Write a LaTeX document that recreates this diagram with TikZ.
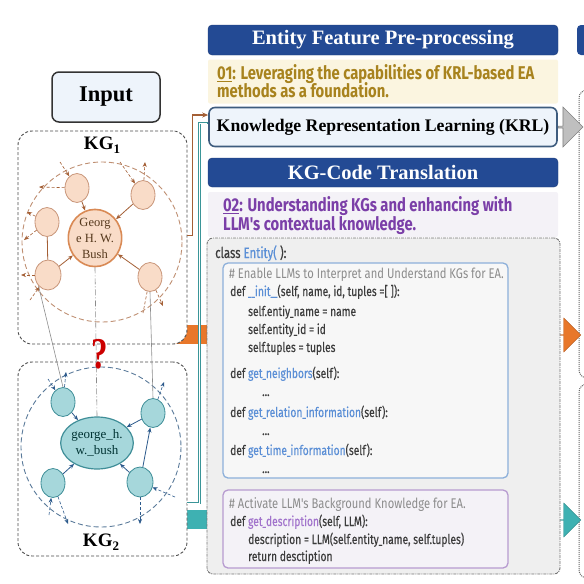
\documentclass[tikz,border=0pt]{standalone}
\usepackage{fontspec}
\usepackage{graphicx}
\setmainfont{Liberation Serif}
\newfontfamily\cond{Fira Sans}[FakeStretch=0.8]
\newfontfamily\condcode{Fira Sans}[FakeStretch=0.76,FakeBold=0.4]
\newcommand\us{\scalebox{0.65}[1]{\_}}
\usetikzlibrary{shapes.geometric,shapes.arrows,arrows.meta}
\definecolor{hdrblue}{HTML}{234A94}
\definecolor{gold}{HTML}{A8831E}
\definecolor{creamfill}{HTML}{FBF5E0}
\definecolor{purpletxt}{HTML}{7B3FA8}
\definecolor{lavfill}{HTML}{F4F2F7}
\definecolor{krlfill}{HTML}{EEF4FB}
\definecolor{krlline}{HTML}{3E5C7E}
\definecolor{codefill}{HTML}{EFEFEF}
\definecolor{codetxt}{HTML}{3C3C3C}
\definecolor{cmttxt}{HTML}{8C8C8C}
\definecolor{kwblue}{HTML}{5B8FD6}
\definecolor{kwpurple}{HTML}{A274CC}
\definecolor{blueframe}{HTML}{8DB0DA}
\definecolor{purpleframe}{HTML}{B79BD0}
\definecolor{orangeC}{HTML}{E8772A}
\definecolor{tealC}{HTML}{3EB1B2}
\definecolor{tealline}{HTML}{3A9598}
\definecolor{brownline}{HTML}{A45F35}
\definecolor{peach}{HTML}{F9DCC8}
\definecolor{peachline}{HTML}{C9967A}
\definecolor{kgonefr}{HTML}{D98A55}
\definecolor{aqua}{HTML}{A6D7DB}
\definecolor{aqualine}{HTML}{3F8E98}
\definecolor{kgtwoedge}{HTML}{2C5A8C}
\definecolor{kgtwodash}{HTML}{5A7A9A}
\begin{document}
\begin{tikzpicture}[x=1pt,y=-1pt,
  hdr/.style={draw=hdrblue!80!black,fill=hdrblue,rounded corners=4pt,text=white,font=\bfseries\fontsize{20.5}{22}\selectfont,minimum width=350pt,inner sep=0pt},
  notebox/.style={rounded corners=2pt,minimum width=350pt,inner sep=0pt},
  notetxt/.style={anchor=base west,inner sep=0pt,font=\cond\bfseries\fontsize{18.5}{20}\selectfont},
  codeln/.style={anchor=base west,inner sep=0pt,text=codetxt,font=\condcode\fontsize{13.5}{15}\selectfont},
  cmtln/.style={anchor=base west,inner sep=0pt,text=cmttxt,font=\cond\fontsize{14}{15}\selectfont},
  kgframe/.style={draw=black!70,densely dashed,rounded corners=14pt,fill=white,line width=0.9pt,minimum width=169pt,inner sep=0pt},
  kgone/.style={ellipse,fill=peach,draw=peachline,line width=0.8pt,inner sep=0pt,minimum width=24pt,minimum height=29pt},
  kgtwo/.style={ellipse,fill=aqua,draw=aqualine,line width=0.8pt,inner sep=0pt,minimum width=24pt,minimum height=29pt},
  eone/.style={draw=brownline,line width=0.8pt,-{Stealth[length=5pt,width=4pt]}},
  eonedash/.style={eone,densely dashed,line width=0.6pt},
  etwo/.style={draw=kgtwoedge,line width=0.8pt,-{Stealth[length=5pt,width=4pt]}},
  etwodash/.style={etwo,densely dashed,line width=0.6pt},
  alignln/.style={draw=black!45,line width=0.6pt}
]
\useasboundingbox (0,0) rectangle (584,584);
\begin{scope}
\clip (0,0) rectangle (584,584);
% right partial panel
\fill[hdrblue,rounded corners=4pt] (577,25) rectangle (610,55);
\draw[black!60,densely dotted,line width=1pt,rounded corners=8pt] (579,90) rectangle (620,378);
\draw[black!60,densely dotted,line width=1pt,rounded corners=8pt] (579,384) rectangle (620,578);
% bands behind
\fill[orangeC] (160,325) rectangle (210,344);
\fill[tealC] (160,510) rectangle (210,529);
\end{scope}

% right block arrows
\node[single arrow,fill=orangeC,draw=orangeC!80!black,line width=0.4pt,minimum width=34pt,single arrow head extend=7pt,minimum height=27pt,inner sep=0pt] (oarr) at (567,335) {};
\node[single arrow,fill=tealC,draw=tealC!80!black,line width=0.4pt,minimum width=34pt,single arrow head extend=7pt,minimum height=27pt,inner sep=0pt] (tarr) at (567,520) {};
\node[single arrow,fill=black!25,draw=black!50,line width=0.6pt,minimum width=40pt,single arrow head extend=6pt,minimum height=25pt,inner sep=0pt] (garr) at (570,127) {};

% headers and boxes
\node[hdr,minimum height=30pt] (h1) at (383,40) {Entity Feature Pre-processing};
\node[notebox,fill=creamfill,minimum height=44pt] (n1) at (383,81.5) {};
\node[notetxt,text=gold] (n1a) at (217,79) {\underline{01}: Leveraging the capabilities of KRL-based EA};
\node[notetxt,text=gold] (n1b) at (217,97) {methods as a foundation.};
\node[draw=krlline,fill=krlfill,line width=1.6pt,rounded corners=6pt,minimum width=348pt,minimum height=39pt,inner sep=0pt,font=\bfseries\fontsize{17.7}{19}\selectfont] (krl) at (383,127) {Knowledge Representation Learning (KRL)};
\node[hdr,minimum height=29pt] (h2) at (383,172.5) {KG-Code Translation};
\node[notebox,fill=lavfill,minimum height=45pt] (n2) at (383,214.5) {};
\node[notetxt,text=purpletxt] (n2a) at (223,211) {\underline{02}: Understanding KGs and enhancing with};
\node[notetxt,text=purpletxt] (n2b) at (223,230) {LLM's contextual knowledge.};

% code box
\node[draw=black!55,fill=codefill,dash pattern=on 3pt off 1pt on 1pt off 1pt,line width=0.9pt,rounded corners=6pt,minimum width=353pt,minimum height=336pt,inner sep=0pt] (codebox) at (383.5,406) {};
\node[draw=blueframe,fill=black!3,line width=1.3pt,rounded corners=5pt,minimum width=285pt,minimum height=215pt,inner sep=0pt] (bluebox) at (365.5,370.5) {};
\node[draw=purpleframe,fill=lavfill,line width=1.3pt,rounded corners=5pt,minimum width=285pt,minimum height=78pt,inner sep=0pt] (purplebox) at (365.5,529) {};

\node[codeln,font=\condcode\fontsize{15}{17}\selectfont] (c0) at (215,258) {class \textcolor{kwblue}{Entity(} ):};
\node[cmtln] (c1) at (229,278) {\# Enable LLMs to Interpret and Understand KGs for EA.};
\node[codeln] (c2) at (230,296) {def \textcolor{kwblue}{\us\us init\us\us}(self, name, id, tuples =[ ]):};
\node[codeln] (c3) at (248,316) {self.entiy\us name = name};
\node[codeln] (c4) at (248,334) {self.entity\us id = id};
\node[codeln] (c5) at (248,352) {self.tuples = tuples};
\node[codeln] (c6) at (230,378) {def \textcolor{kwblue}{get\us neighbors}(self):};
\node[codeln] (c7) at (262,396) {...};
\node[codeln] (c8) at (230,417) {def \textcolor{kwblue}{get\us relation\us information}(self):};
\node[codeln] (c9) at (262,435) {...};
\node[codeln] (c10) at (230,455) {def \textcolor{kwblue}{get\us time\us information}(self):};
\node[codeln] (c11) at (262,473) {...};
\node[cmtln] (c12) at (229,508) {\# Activate LLM's Background Knowledge for EA.};
\node[codeln] (c13) at (230,526) {def \textcolor{kwpurple}{get\us description}(self, LLM):};
\node[codeln] (c14) at (248,544) {description = LLM(self.entity\us name, self.tuples)};
\node[codeln] (c15) at (248,561) {return desctiption};

% input
\node[draw=black!80,fill=krlfill,line width=1.5pt,rounded corners=7pt,minimum width=108pt,minimum height=50pt,inner sep=0pt,font=\bfseries\fontsize{22.5}{24}\selectfont] (input) at (106,97) {Input};

% KG frames
\node[kgframe,minimum height=213pt] (kg1box) at (102.5,237.5) {};
\node[kgframe,minimum height=194pt] (kg2box) at (102.5,459) {};
\node[font=\bfseries\fontsize{19}{21}\selectfont,inner sep=0pt] (kg1lab) at (102,145) {KG\raisebox{-4pt}{\fontsize{13}{13}\selectfont 1}};
\node[font=\bfseries\fontsize{19}{21}\selectfont,inner sep=0pt] (kg2lab) at (101,542) {KG\raisebox{-4pt}{\fontsize{13}{13}\selectfont 2}};

% connectors to KRL
\draw[brownline,line width=1.2pt,-{Stealth[length=6pt,width=5pt]}] ([yshift=2pt]kg1box.east) -- ++(5,0) |- ([yshift=12pt]krl.west);
\draw[tealline,line width=2.4pt] ([yshift=-44pt]kg2box.east) -- ++(12,0) |- ([yshift=4pt]krl.west);
\draw[white,line width=0.8pt,shorten >=1pt] ([yshift=-44pt]kg2box.east) -- ++(12,0) |- ([yshift=4pt]krl.west);

% KG1 graph
\draw[brownline!70,dashed,line width=0.9pt,dash pattern=on 5pt off 3pt] (102,242) circle (80);
\node[kgone] (a1) at (77,188) {};
\node[kgone] (b1) at (143,195) {};
\node[kgone] (l1) at (47,222) {};
\node[kgone,minimum width=26pt,minimum height=30pt] (d1) at (48,275) {};
\node[kgone] (e1) at (150,277) {};
\node[ellipse,fill=peach,draw=kgonefr,line width=1.6pt,inner sep=0pt,minimum width=48pt,minimum height=54pt,align=center,text=black!55!brown,font=\fontsize{12.5}{16}\selectfont] (c1) at (95,238) {Georg\\e H. W.\\Bush};
\draw[eone] (a1) -- (c1);
\draw[eone] (b1) -- (c1);
\draw[eone] (d1) -- (c1);
\draw[eone] (e1) -- (c1);
\draw[brownline,line width=0.8pt] (l1) -- (d1);
\coordinate (p1) at (39,187);
\coordinate (p2) at (60,162);
\coordinate (p3) at (120,162);
\coordinate (p4) at (145,162);
\coordinate (p5) at (27,212);
\coordinate (p6) at (24,240);
\coordinate (p7) at (21,275);
\coordinate (p8) at (30,300);
\coordinate (p9) at (143,313);
\coordinate (p10) at (163,306);
\draw[eonedash] (a1) -- (p1);
\draw[eonedash] (p2) -- (a1);
\draw[eonedash] (p3) -- (b1);
\draw[eonedash] (b1) -- (p4);
\draw[eonedash] (l1) -- (p5);
\draw[eonedash] (l1) -- (p6);
\draw[eonedash] (d1) -- (p7);
\draw[eonedash] (p8) -- (d1);
\draw[brownline,densely dashed,line width=0.6pt] (e1) -- (p9);
\draw[eonedash] (e1) -- (p10);

% KG2 graph
\draw[kgtwodash,dashed,line width=0.9pt,dash pattern=on 5pt off 3pt] (101,447) circle (80);
\node[kgtwo] (a2) at (63,402) {};
\node[kgtwo] (b2) at (153,413) {};
\node[kgtwo] (l2) at (53,483) {};
\node[kgtwo,minimum width=26pt,minimum height=30pt] (d2) at (140,482) {};
\node[ellipse,fill=aqua,draw=aqualine,line width=1.2pt,inner sep=0pt,minimum width=60pt,minimum height=52pt,align=center,text=black!60!teal,font=\fontsize{13}{15.5}\selectfont] (c2) at (97,443) {george\_h.\\w.\_bush};
\draw[etwo] (a2) -- (c2);
\draw[etwo] (b2) -- (c2);
\draw[etwo] (l2) -- (c2);
\draw[etwo] (d2) -- (c2);
\draw[etwo] (d2) -- (b2);
\coordinate (q1) at (48,379);
\coordinate (q2) at (66,372);
\coordinate (q3) at (164,382);
\coordinate (q4) at (68,524);
\coordinate (q5) at (49,515);
\coordinate (q6) at (140,524);
\coordinate (q7) at (175,497);
\draw[etwodash] (q1) -- (a2);
\draw[etwodash] (a2) -- (q2);
\draw[etwodash] (b2) -- (q3);
\draw[etwodash] (l2) -- (q4);
\draw[etwodash] (q5) -- (l2);
\draw[etwodash] (d2) -- (q6);
\draw[etwodash] (q7) -- (d2);

% alignment lines
\draw[alignln] (d1.south west) -- (a2.north);
\draw[alignln] (e1.south) -- (b2.north);
\draw[alignln,dash pattern=on 6pt off 2pt on 1pt off 2pt] (c1.south) -- (c2.north);
\node[text=red!80!black,font=\bfseries\fontsize{44}{44}\selectfont,xscale=0.75,inner sep=0pt] (qm) at (100,354) {?};
\end{tikzpicture}
\end{document}
